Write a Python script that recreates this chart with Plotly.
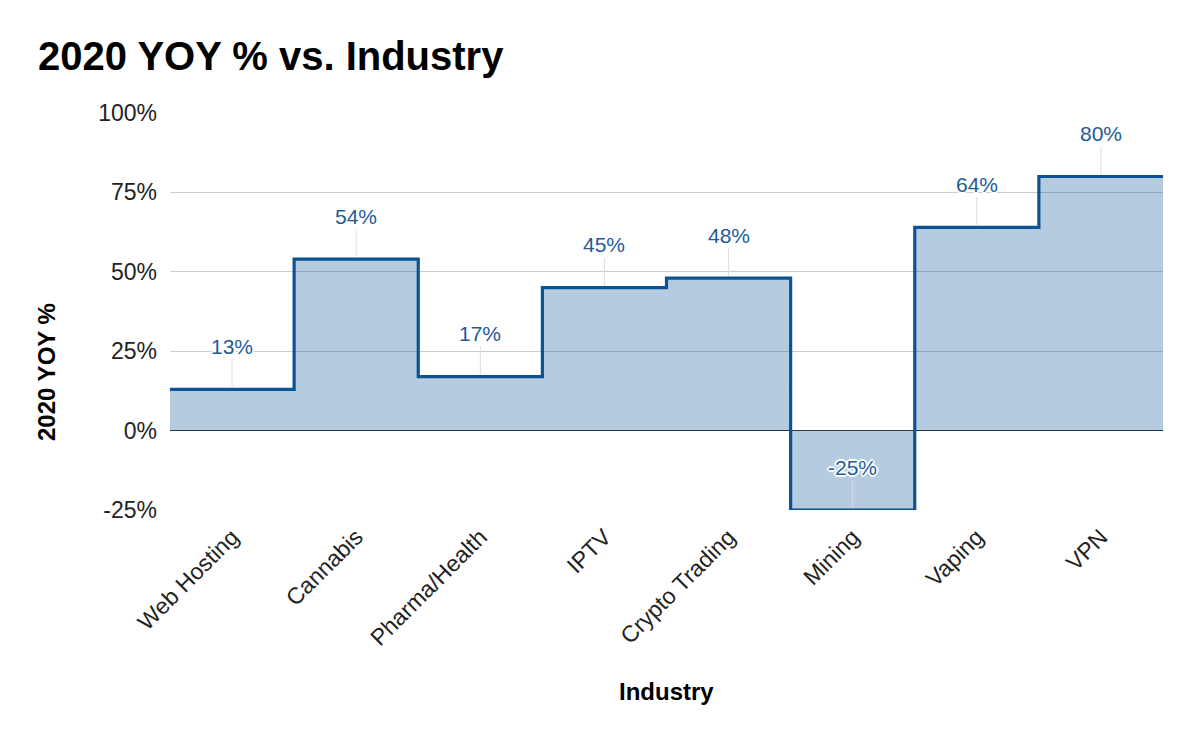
import plotly.graph_objects as go

industries = ["Web Hosting", "Cannabis", "Pharma/Health", "IPTV", "Crypto Trading",
              "Mining", "Vaping", "VPN"]
yoy_pct = [13, 54, 17, 45, 48, -25, 64, 80]
y_ticks = [-25, 0, 25, 50, 75, 100]
y_tick_labels = ["-25%", "0%", "25%", "50%", "75%", "100%"]

LINE = "#0b5394"
LABEL = "#1f5b9b"
FONT = "Liberation Sans, Arial, sans-serif"

n = len(industries)
idx = list(range(n))
# step edges: each category occupies [i-0.5, i+0.5]
x_edges = [i - 0.5 for i in idx] + [n - 0.5]
y_edges = yoy_pct + [yoy_pct[-1]]

fig = go.Figure()
fig.add_trace(go.Scatter(
    x=x_edges, y=y_edges, mode="lines",
    line=dict(color=LINE, width=3.2, shape="hv"),
    fill="tozeroy", fillcolor="rgba(11,83,148,0.3)",
    cliponaxis=False, hoverinfo="skip", showlegend=False,
))

halo = ("2px 0 1px white, -2px 0 1px white, 0 2px 1px white, 0 -2px 1px white, "
        "1px 1px 1px white, -1px -1px 1px white, 1px -1px 1px white, -1px 1px 1px white")
for i, v in zip(idx, yoy_pct):
    fig.add_annotation(
        x=i, y=v, xref="x", yref="y", text=f"{v}%",
        showarrow=True, arrowhead=0, arrowwidth=1, arrowcolor="#dddddd",
        ax=0, ay=-43, standoff=2,
        font=dict(family=FONT, size=21, color=LABEL, shadow=halo),
    )

# axis titles
fig.add_annotation(text="<b>Industry</b>", xref="paper", yref="paper",
                   x=(666 - 170) / (1163 - 170), y=-(691 - 510) / (510 - 113),
                   xanchor="center", yanchor="middle",
                   showarrow=False, font=dict(family=FONT, size=24, color="#000"))
fig.add_annotation(text="<b>2020 YOY %</b>", xref="paper", yref="paper",
                   x=-(170 - 46) / (1163 - 170), y=(510 - 372) / (510 - 113),
                   xanchor="center", yanchor="middle",
                   textangle=-90, showarrow=False,
                   font=dict(family=FONT, size=24, color="#000"))

fig.update_layout(
    width=1200, height=742,
    margin=dict(l=170, r=37, t=113, b=232),
    paper_bgcolor="white", plot_bgcolor="white",
    title=dict(text="<b>2020 YOY % vs. Industry</b>", x=38 / 1200, xanchor="left",
               y=1 - 56 / 742, yanchor="middle",
               font=dict(family=FONT, size=40, color="#000")),
    font=dict(family=FONT, color="#222"),
)
fig.update_xaxes(
    range=[-0.5, n - 0.5], tickmode="array", tickvals=idx, ticktext=industries,
    tickangle=-45, tickfont=dict(family=FONT, size=23, color="#222"),
    showgrid=False, zeroline=False, showline=False, ticks="",
    ticklabelstandoff=8,
)
fig.update_yaxes(
    range=[-25, 100], tickmode="array", tickvals=y_ticks, ticktext=y_tick_labels,
    tickfont=dict(family=FONT, size=23, color="#222"),
    showgrid=True, gridcolor="#cccccc", gridwidth=1,
    zeroline=True, zerolinecolor="#333333", zerolinewidth=1,
    showline=False, ticks="", ticklabelstandoff=12,
)

fig.write_html("out.html")
